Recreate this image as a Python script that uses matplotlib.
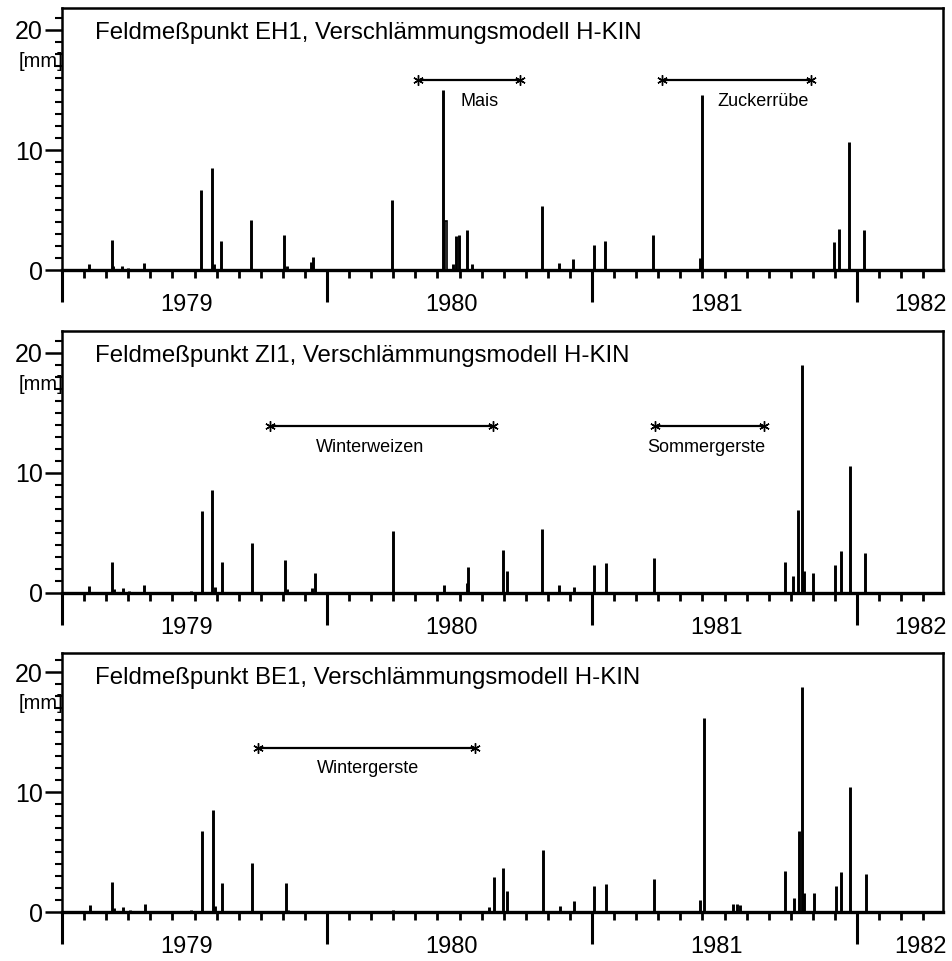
import numpy as np
import matplotlib.pyplot as plt
from matplotlib.ticker import MultipleLocator, FixedLocator
import matplotlib.transforms as mtransforms

plt.rcParams['font.family'] = ['Liberation Sans', 'DejaVu Sans']

# Feldmesspunkt EH1 (date as decimal year, runoff in mm)
eh1_x = [1979.102, 1979.188, 1979.194, 1979.228, 1979.250, 1979.309, 1979.483,
         1979.523, 1979.565, 1979.574, 1979.601, 1979.713, 1979.839, 1979.848,
         1979.938, 1979.948, 1980.087, 1980.246, 1980.437, 1980.477, 1980.487,
         1980.499, 1980.527, 1980.547, 1980.811, 1980.875, 1980.929, 1981.006,
         1981.050, 1981.229, 1981.408, 1981.416, 1981.913, 1981.933, 1981.970,
         1982.028]
eh1_mm = [0.5, 2.5, 0.3, 0.3, 0.15, 0.6, 0.1,
          6.7, 8.5, 0.5, 2.45, 4.2, 2.9, 0.3,
          0.7, 1.1, 0.1, 5.8, 15.0, 0.5, 2.8,
          2.9, 3.3, 0.5, 5.3, 0.55, 0.95, 2.1,
          2.4, 2.95, 1.0, 14.6, 2.3, 3.4, 10.7,
          3.3]
# open (unfilled) bar in EH1
eh1_open_x = [1980.449]
eh1_open_mm = [4.1]

# Feldmesspunkt ZI1
zi1_x = [1979.103, 1979.190, 1979.196, 1979.229, 1979.254, 1979.311, 1979.486,
         1979.527, 1979.567, 1979.577, 1979.605, 1979.716, 1979.843, 1979.850,
         1979.942, 1979.955, 1980.249, 1980.442, 1980.527, 1980.533, 1980.665,
         1980.678, 1980.810, 1980.877, 1980.932, 1981.008, 1981.052, 1981.233,
         1981.728, 1981.760, 1981.778, 1981.791, 1981.800, 1981.835, 1981.917,
         1981.938, 1981.974, 1982.030]
zi1_mm = [0.6, 2.6, 0.3, 0.45, 0.2, 0.7, 0.2,
          6.85, 8.6, 0.5, 2.55, 4.2, 2.75, 0.3,
          0.45, 1.7, 5.15, 0.65, 0.8, 2.2, 3.6,
          1.85, 5.35, 0.65, 0.5, 2.35, 2.5, 2.95,
          2.6, 1.4, 6.9, 19.0, 1.8, 1.7, 2.35,
          3.5, 10.6, 3.3]

# Feldmesspunkt BE1
be1_x = [1979.106, 1979.190, 1979.196, 1979.231, 1979.257, 1979.314, 1979.487,
         1979.527, 1979.569, 1979.577, 1979.604, 1979.717, 1979.844, 1979.852,
         1980.250, 1980.612, 1980.631, 1980.665, 1980.678, 1980.814, 1980.879,
         1980.933, 1981.009, 1981.053, 1981.234, 1981.408, 1981.423, 1981.531,
         1981.548, 1981.558, 1981.728, 1981.763, 1981.781, 1981.791, 1981.800,
         1981.838, 1981.920, 1981.940, 1981.974, 1982.033]
be1_mm = [0.55, 2.5, 0.3, 0.4, 0.2, 0.65, 0.15,
          6.75, 8.5, 0.5, 2.45, 4.1, 2.45, 0.2,
          0.2, 0.4, 2.9, 3.7, 1.75, 5.2, 0.5,
          0.9, 2.2, 2.3, 2.75, 1.0, 16.2, 0.65,
          0.7, 0.6, 3.4, 1.2, 6.75, 18.75, 1.6,
          1.55, 2.2, 3.3, 10.4, 3.15]

# crop periods per station: name, start, end, level
eh1_crops = ["Mais", "Zuckerrübe"]
eh1_start = [1980.342, 1981.263]
eh1_end = [1980.728, 1981.825]
eh1_level = [15.8, 15.8]
eh1_label_x = [1980.577, 1981.645]

zi1_crops = ["Winterweizen", "Sommergerste"]
zi1_start = [1979.785, 1981.238]
zi1_end = [1980.628, 1981.650]
zi1_level = [13.9, 13.9]
zi1_label_x = [1980.162, 1981.433]

be1_crops = ["Wintergerste"]
be1_start = [1979.741]
be1_end = [1980.558]
be1_level = [13.7]
be1_label_x = [1980.156]

stations = ["EH1", "ZI1", "BE1"]
year_labels = ["1979", "1980", "1981", "1982"]
year_label_pos = [1979.47, 1980.47, 1981.47, 1982.238]

panels = [
    (eh1_x, eh1_mm, eh1_crops, eh1_start, eh1_end, eh1_level, eh1_label_x),
    (zi1_x, zi1_mm, zi1_crops, zi1_start, zi1_end, zi1_level, zi1_label_x),
    (be1_x, be1_mm, be1_crops, be1_start, be1_end, be1_level, be1_label_x),
]

fig = plt.figure(figsize=(9.52, 9.61), dpi=100)
W, H = 952, 961
left, right = 62, 943
tops = [8, 331, 653]
zeros = [270, 593, 912]

asterisk = (6, 2, 0)

for i, (xs, ys, crops, starts, ends, levels, lab_x) in enumerate(panels):
    ax = fig.add_axes([left / W, 1 - zeros[i] / H, (right - left) / W,
                       (zeros[i] - tops[i]) / H])
    ax.vlines(xs, 0, ys, colors='black', lw=2.1, capstyle='butt')
    if i == 0:
        ax.bar(eh1_open_x, eh1_open_mm, width=0.011, facecolor='white',
               edgecolor='black', lw=1.2, zorder=3)

    for name, s, e, lv, lx in zip(crops, starts, ends, levels, lab_x):
        ax.plot([s, e], [lv, lv], color='black', lw=1.6)
        ax.plot([s, e], [lv, lv], ls='none', color='black',
                marker=asterisk, markersize=7.5, markeredgewidth=1.0)
        ax.text(lx, lv - 1.75, name, ha='center', va='center', fontsize=13)

    ax.set_xlim(1979.0, 1979.0 + (right - left) / 265.0)
    ax.set_ylim(0, (zeros[i] - tops[i]) / 12.0)

    for sp in ax.spines.values():
        sp.set_linewidth(1.8)
    ax.spines['bottom'].set_linewidth(2.4)

    ax.xaxis.set_major_locator(FixedLocator([1979, 1980, 1981, 1982]))
    ax.xaxis.set_minor_locator(MultipleLocator(1 / 12))
    ax.set_xticklabels([])
    ax.tick_params(axis='x', which='major', direction='out', length=23,
                   width=2.2)
    ax.tick_params(axis='x', which='minor', direction='out', length=6,
                   width=2.0)

    ax.yaxis.set_major_locator(FixedLocator([0, 10, 20]))
    ax.yaxis.set_minor_locator(MultipleLocator(1))
    ax.tick_params(axis='y', which='major', direction='out', length=12,
                   width=1.8, labelsize=18, pad=2)
    ax.tick_params(axis='y', which='minor', direction='out', length=5,
                   width=1.5)

    trans = mtransforms.blended_transform_factory(ax.transData, ax.transAxes)
    for lab, pos in zip(year_labels, year_label_pos):
        ax.text(pos, -35 / (zeros[i] - tops[i]), lab, transform=trans,
                ha='center', va='center', fontsize=17)

    ax.text(0.0375, 0.905,
            "Feldmeßpunkt " + stations[i] + ", Verschlämmungsmodell H-KIN",
            transform=ax.transAxes, ha='left', va='center', fontsize=17.3)
    ax.text(0.002, 17.4, "[mm]", ha='right', va='center', fontsize=14.5,
            transform=mtransforms.blended_transform_factory(ax.transAxes,
                                                            ax.transData))

fig.savefig("out.png", dpi=100)
